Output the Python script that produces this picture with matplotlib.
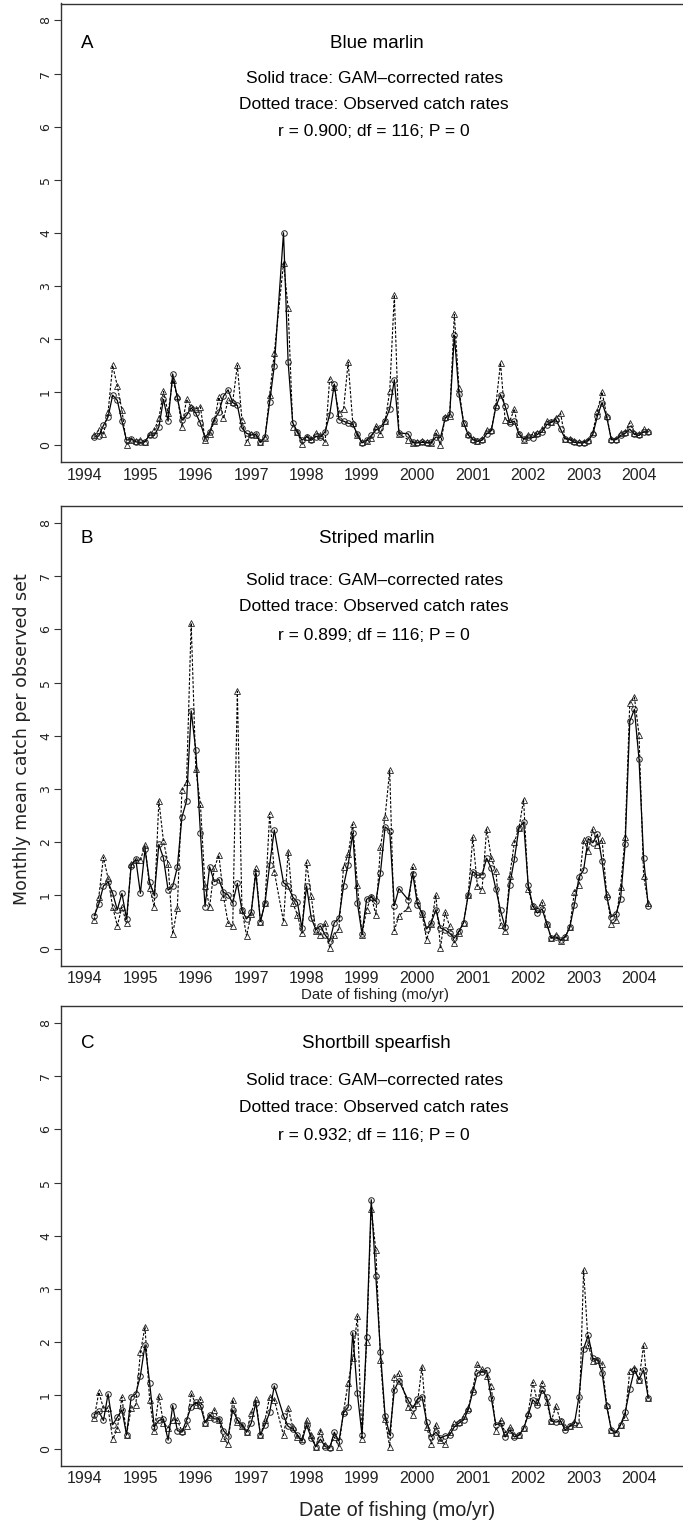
import numpy as np
import matplotlib.pyplot as plt

# monthly series, March 1994 .. March 2004 (None = month not sampled)
start = 1994 + 2 / 12.0
years = list(range(1994, 2005))

blue_gam = [.15, .17, .37, .53, .94, .84, .45, .09, .12, .06,
            .05, .06, .19, .18, .34, .86, .45, 1.34, .89, .47, .56, .70,
            .60, .41, .14, .25, .48, .62, .92, 1.04, .80, .75, .32, .22,
            .19, .20, .05, .16, .81, 1.49, None, 4.00, 1.56, .42, .25, .09,
            .16, .09, .16, .15, .25, .57, 1.15, .48, .45, .41, .39, .20,
            .04, .09, .18, .28, .33, .46, .68, 1.23, .23, None, .21, .05,
            .04, .05, .04, .05, .15, .14, .50, .58, 2.07, .96, .42, .19,
            .10, .07, .09, .21, .27, .72, .95, .74, .42, .45, .20, .12,
            .15, .14, .20, .25, .38, .43, .48, .30, .12, .10, .05, .04,
            .04, .08, .20, .55, .80, .53, .10, .10, .18, .22, .30, .20,
            .18, .25, .25]
blue_obs = [.18, .28, .20, .62, 1.50, 1.11, .66, .00, .10, .08,
            .10, .06, .21, .28, .50, 1.01, .60, 1.23, .92, .34, .86, .72,
            .68, .72, .10, .20, .45, .90, .50, .84, .82, 1.50, .47, .05,
            .20, .19, .06, .14, .95, 1.73, None, 3.43, 2.58, .34, .25, .01,
            .16, .12, .23, .19, .05, 1.25, 1.09, .60, .67, 1.56, .42, .18,
            .05, .08, .14, .36, .21, .45, 1.01, 2.83, .21, None, .10, .04,
            .05, .07, .05, .03, .24, .00, .52, .55, 2.46, 1.07, .42, .20,
            .12, .07, .12, .28, .28, .75, 1.55, .47, .45, .68, .20, .10,
            .18, .20, .22, .30, .45, .43, .50, .60, .12, .12, .08, .05,
            .06, .10, .25, .65, 1.00, .55, .12, .12, .22, .25, .42, .22,
            .20, .30, .27]

striped_gam = [.62, .84, 1.18, 1.25, 1.04, .73, 1.04, .56, 1.56, 1.68,
               1.04, 1.87, 1.25, 1.00, 1.96, 1.70, 1.10, 1.17, 1.53, 2.47, 2.78, 4.47,
               3.73, 2.18, .79, 1.54, 1.26, 1.30, 1.06, 1.01, .86, 1.23, .72, .56,
               .68, 1.43, .51, .86, 1.58, 2.23, None, 1.24, 1.17, .97, .87, .39,
               1.18, .58, .36, .43, .26, .14, .49, .57, 1.18, 1.58, 2.17, .86,
               .28, .93, .97, .89, 1.43, 2.29, 2.22, .81, 1.13, None, .92, 1.41,
               .83, .67, .37, .49, .73, .39, .35, .29, .20, .33, .49, 1.01,
               1.45, 1.38, 1.39, 1.70, 1.51, 1.12, .72, .40, 1.20, 1.68, 2.27, 2.38,
               1.20, .80, .67, .75, .47, .20, .22, .16, .22, .40, .83, 1.34,
               1.48, 2.07, 1.99, 2.15, 1.65, .98, .60, .65, .93, 1.96, 4.27, 4.50,
               3.56, 1.70, .80]
striped_obs = [.53, .98, 1.72, 1.32, .78, .43, .78, .48, 1.60, 1.66,
               1.66, 1.95, 1.14, .79, 2.78, 2.02, 1.60, .28, .76, 2.98, 3.14, 6.12,
               3.37, 2.72, 1.17, .79, 1.51, 1.76, .98, .48, .43, 4.84, .73, .24,
               .66, 1.51, .51, .86, 2.54, 1.45, None, .51, 1.82, .86, .64, .29,
               1.62, .99, .33, .26, .48, .01, .26, .37, 1.54, 1.77, 2.34, 1.20,
               .26, .73, .98, .64, 1.91, 2.48, 3.35, .34, .62, None, .76, 1.55,
               .92, .66, .17, .47, 1.01, .01, .68, .42, .11, .29, .49, 1.01,
               2.09, 1.17, 1.11, 2.25, 1.70, 1.46, .45, .33, 1.37, 2.00, 2.27, 2.80,
               1.12, .80, .75, .87, .47, .20, .25, .15, .22, .40, 1.07, 1.20,
               2.04, 1.84, 2.24, 1.95, 2.05, 1.02, .46, .53, 1.16, 2.10, 4.62, 4.73,
               4.02, 1.36, .86]

spear_gam = [.64, .70, .53, 1.03, .45, .59, .73, .26, .97, 1.03,
             1.37, 1.95, 1.24, .41, .53, .56, .16, .81, .34, .31, .54, .79,
             .87, .81, .49, .64, .56, .56, .34, .24, .73, .54, .45, .31,
             .48, .86, .26, .45, .68, 1.18, None, .62, .42, .37, .26, .14,
             .45, .20, .04, .18, .04, .01, .31, .14, .67, .78, 2.18, 1.04,
             .26, 2.10, 4.68, 3.24, 1.81, .62, .26, 1.10, 1.28, None, .91, .76,
             .93, .98, .51, .22, .31, .20, .24, .26, .41, .48, .54, .73,
             1.07, 1.42, 1.45, 1.47, .95, .45, .48, .22, .35, .22, .25, .38,
             .63, .92, .83, 1.10, .97, .52, .50, .52, .35, .42, .47, .98,
             1.88, 2.13, 1.70, 1.67, 1.43, .80, .35, .30, .45, .68, 1.12, 1.48,
             1.30, 1.48, .95]
spear_obs = [.58, 1.06, .76, .76, .18, .37, .97, .26, .76, .82,
             1.81, 2.29, .91, .33, .99, .48, .39, .54, .53, .33, .43, 1.04,
             .83, .93, .49, .59, .73, .54, .20, .08, .92, .51, .42, .31,
             .67, .93, .25, .54, .98, .92, None, .25, .76, .41, .22, .18,
             .54, .26, .04, .34, .07, .03, .22, .04, .70, 1.24, 1.70, 2.49,
             .18, 2.01, 4.51, 3.73, 1.67, .56, .03, 1.34, 1.42, None, .79, .64,
             .86, 1.54, .41, .09, .45, .16, .08, .31, .48, .51, .61, .76,
             1.12, 1.59, 1.49, 1.36, 1.17, .34, .53, .30, .40, .25, .26, .38,
             .67, 1.25, .88, 1.24, .88, .52, .80, .52, .40, .42, .50, .47,
             3.36, 1.95, 1.65, 1.67, 1.60, .83, .36, .30, .45, .60, 1.46, 1.52,
             1.30, 1.95, .95]

panels = [
    ('A', 'Blue marlin', 'r = 0.900; df = 116; P = 0', blue_gam, blue_obs),
    ('B', 'Striped marlin', 'r = 0.899; df = 116; P = 0', striped_gam, striped_obs),
    ('C', 'Shortbill spearfish', 'r = 0.932; df = 116; P = 0', spear_gam, spear_obs),
]

# pixel layout (figure is 683 x 1524)
W, H = 683.0, 1524.0
frames = [(3.5, 462.0), (506.0, 965.7), (1006.0, 1465.7)]
text_y = [(7.56, 6.90, 6.41, 5.90), (7.70, 6.92, 6.43, 5.89), (7.61, 6.92, 6.41, 5.89)]

FONT = ['Liberation Sans', 'DejaVu Sans']
GREY = '#333333'


def series(vals):
    x, y = [], []
    for i, v in enumerate(vals):
        if v is not None:
            x.append(start + i / 12.0)
            y.append(v)
    return np.array(x), np.array(y)


fig = plt.figure(figsize=(W / 100, H / 100), dpi=100)

for k, (letter, title, stats, gam, obs) in enumerate(panels):
    top, bot = frames[k]
    ax = fig.add_axes([61 / W, 1 - bot / H, 1 - 61 / W, (bot - top) / H])

    xo, yo = series(obs)
    xg, yg = series(gam)
    ax.plot(xo, yo, color='black', lw=0.8, ls=(0, (2.5, 1.5)),
            marker='^', ms=4, mfc='none', mec='#222222', mew=0.6)
    ax.plot(xg, yg, color='black', lw=0.9, ls='-',
            marker='o', ms=4, mfc='none', mec='#222222', mew=0.7)

    ax.set_xlim(1993.567, 2004.794)
    ax.set_ylim(-0.32, 8.32)
    ax.set_yticks(range(0, 9))
    ax.set_xticks(years)
    ax.set_xticklabels([str(y) for y in years], family=FONT, fontsize=11.5)
    ax.tick_params(axis='x', length=0, pad=4, colors='#222222')
    ax.tick_params(axis='y', length=5, width=0.8, pad=1.5, color=GREY,
                   labelcolor='#222222', labelsize=9, labelrotation=90)
    for lab in ax.get_yticklabels():
        lab.set_va('center')
    for s in ('left', 'top', 'bottom'):
        ax.spines[s].set_color(GREY)
        ax.spines[s].set_linewidth(1.0)
    ax.spines['right'].set_visible(False)

    ly, ty, s1, s2 = text_y[k]
    ax.text(1993.92, ly, letter, ha='left', va='center', family=FONT, fontsize=13.5)
    ax.text(1999.26, ly, title, ha='center', va='center', family=FONT, fontsize=13.5)
    ax.text(1999.22, ty, 'Solid trace: GAM\u2013corrected rates', ha='center', va='center',
            family=FONT, fontsize=12.5)
    ax.text(1999.22, s1, 'Dotted trace: Observed catch rates', ha='center', va='center',
            family=FONT, fontsize=12.5)
    ax.text(1999.22, s2, stats, ha='center', va='center', family=FONT, fontsize=12.5)

fig.text(22 / W, 1 - 739 / H, 'Monthly mean catch per observed set', rotation=90,
         ha='center', va='center', family=['DejaVu Sans'], fontsize=12.5, color='#222222')
fig.text(375 / W, 1 - 995 / H, 'Date of fishing (mo/yr)', ha='center', va='center',
         family=FONT, fontsize=10.8, color='#222222')
fig.text(397 / W, 1 - 1510 / H, 'Date of fishing (mo/yr)', ha='center', va='center',
         family=FONT, fontsize=14.3, color='#222222')

fig.savefig('out.png', dpi=100)
